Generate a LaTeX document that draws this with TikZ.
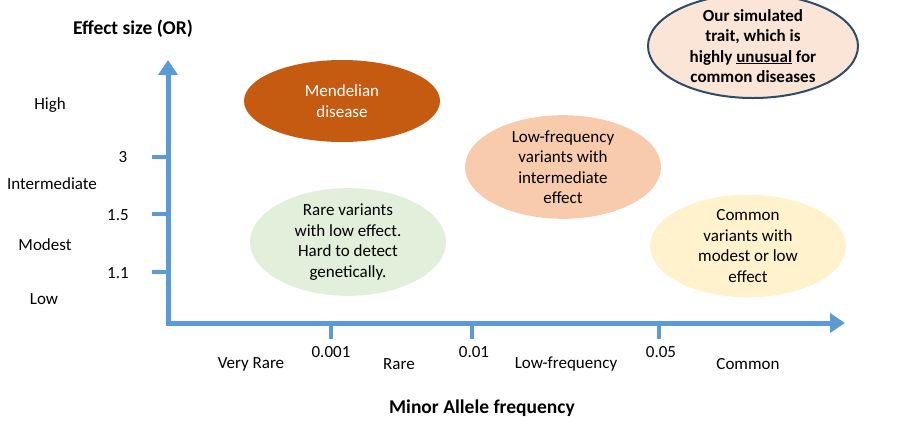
\documentclass[tikz,border=0pt]{standalone}
\usepackage{fontspec}
\setmainfont{Carlito}
\usetikzlibrary{arrows.meta,shapes.geometric}
\definecolor{axisblue}{HTML}{5B9BD5}
\definecolor{mendel}{HTML}{C55A11}
\definecolor{lowfreq}{HTML}{F8CBAD}
\definecolor{rarevar}{HTML}{E2EFDA}
\definecolor{commonvar}{HTML}{FFF2CC}
\definecolor{traitfill}{HTML}{FBE5D6}
\definecolor{traitedge}{HTML}{2F4B6A}

\begin{document}
\begin{tikzpicture}[x=1pt,y=-1pt,
  every node/.style={font=\fontsize{17}{20.5}\selectfont,inner sep=0pt},
  blob/.style={ellipse,minimum width=196pt,minimum height=92pt,align=center},
  axis/.style={draw=axisblue,line width=5pt},
  tick/.style={draw=axisblue,line width=4.5pt},
  bold/.style={font=\fontsize{17}{20.5}\selectfont\bfseries},
  title/.style={font=\fontsize{19.5}{22}\selectfont\bfseries}]
\useasboundingbox (0,0) rectangle (900,429);
\coordinate (origin) at (168,323);
\coordinate (ytip)   at (168,60);
\coordinate (xtip)   at (845,323);
\coordinate (y3a) at (152,157);   \coordinate (y3b) at (168,157);
\coordinate (y15a) at (152,214);  \coordinate (y15b) at (168,214);
\coordinate (y11a) at (152,272);  \coordinate (y11b) at (168,272);
\coordinate (x1a) at (331,323);   \coordinate (x1b) at (331,339);
\coordinate (x2a) at (472,323);   \coordinate (x2b) at (472,339);
\coordinate (x3a) at (659,323);   \coordinate (x3b) at (659,339);
\draw[axis,{Triangle[width=19pt,length=15pt]}-{Triangle[width=19pt,length=15pt]}]
  (ytip) -- (origin) -- (xtip);
\draw[tick] (y3a) -- (y3b) (y15a) -- (y15b) (y11a) -- (y11b)
            (x1a) -- (x1b) (x2a) -- (x2b) (x3a) -- (x3b);
\node[title] (ylab) at (133,29) {Effect size (OR)};
\node[title] (xlab) at (482,408) {Minor Allele frequency};
\node (high)  at (50,105) {High};
\node (inter) at (52,184) {Intermediate};
\node (mod)   at (45,245) {Modest};
\node (low)   at (44,299) {Low};
\node (t3)  at (123,157) {3};
\node (t15) at (118,215) {1.5};
\node (t11) at (118,273) {1.1};
\node (f1) at (331,352) {0.001};
\node (f2) at (474,352) {0.01};
\node (f3) at (661,352) {0.05};
\node (vrare) at (251,364) {Very Rare};
\node (rare)  at (399,364) {Rare};
\node (lowf)  at (566,364) {Low-frequency};
\node (comm)  at (748,364) {Common};
\node[blob,fill=mendel,text=white,minimum height=82pt] (mendelian) at (342,101) {Mendelian\\disease};
\node[blob,fill=lowfreq,minimum height=95pt] (lowvar) at (563,167) {Low-frequency\\variants with\\intermediate\\effect};
\node[blob,fill=rarevar,minimum height=90pt] (rarevar) at (348,242) {Rare variants\\with low effect.\\Hard to detect\\genetically.};
\node[blob,fill=commonvar] (commvar) at (748,246) {Common\\variants with\\modest or low\\effect};
\node[blob,bold,fill=traitfill,draw=traitedge,line width=2pt,minimum width=210pt,minimum height=90pt] (trait) at (753,46)
  {Our simulated\\trait, which is\\highly \underline{unusual} for\\common diseases};
\end{tikzpicture}
\end{document}
